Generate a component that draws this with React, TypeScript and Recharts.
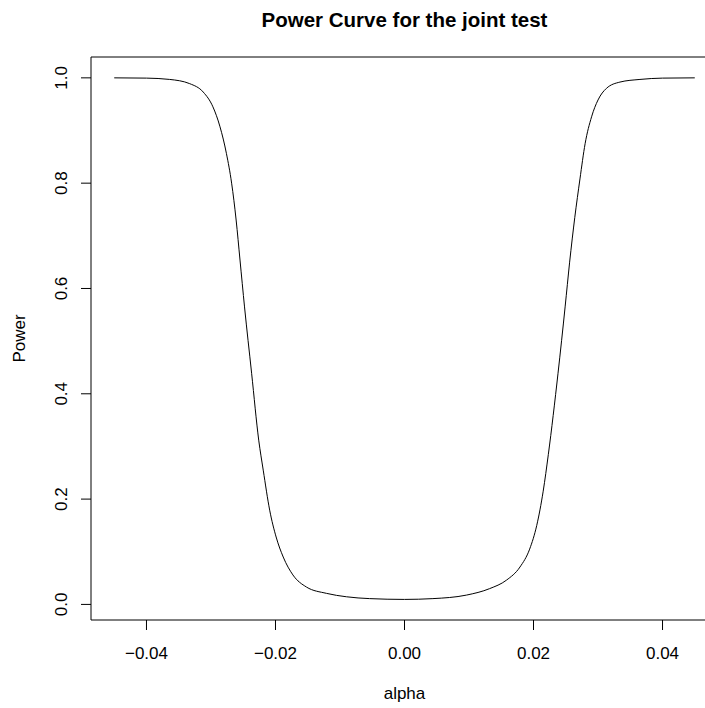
import { Line, LineChart, ReferenceArea, XAxis, YAxis } from "recharts";

// Power of the joint test against alpha.
const ALPHA = [
  -0.045, -0.04, -0.0364, -0.0333, -0.0312, -0.0297, -0.0286, -0.0276, -0.0268, -0.0261, -0.0255, -0.0248,
  -0.0237, -0.0226, -0.0219, -0.0209, -0.0199, -0.0188, -0.0173, -0.0152, -0.0121, -0.009, -0.0054, 0.0,
  0.0044, 0.0096, 0.0132, 0.0158, 0.0179, 0.0194, 0.0205, 0.0215, 0.0223, 0.0238, 0.0249, 0.0256, 0.0264,
  0.0272, 0.028, 0.029, 0.03, 0.0313, 0.0334, 0.0365, 0.04, 0.045,
];
const POWER = [
  1.0, 0.9995, 0.997, 0.989, 0.973, 0.945, 0.907, 0.856, 0.8, 0.73, 0.654, 0.565,
  0.439, 0.312, 0.255, 0.179, 0.128, 0.09, 0.056, 0.033, 0.021, 0.0145, 0.011, 0.0095,
  0.011, 0.0177, 0.03, 0.046, 0.071, 0.105, 0.15, 0.215, 0.285, 0.439, 0.565, 0.65, 0.735,
  0.808, 0.875, 0.926, 0.958, 0.98, 0.992, 0.997, 0.9995, 1.0,
];

const X_TICKS = [-0.04, -0.02, 0, 0.02, 0.04];
const X_TICK_LABELS = ["\u22120.04", "\u22120.02", "0.00", "0.02", "0.04"];
const Y_TICKS = [0, 0.2, 0.4, 0.6, 0.8, 1.0];
const Y_TICK_LABELS = ["0.0", "0.2", "0.4", "0.6", "0.8", "1.0"];

// R pads the data range by 4% on each side
const X_DOMAIN: [number, number] = [-0.0486, 0.0486];
const Y_DOMAIN: [number, number] = [-0.0296, 1.0396];

const FONT = "'Liberation Sans', Arial, Helvetica, sans-serif";

const data = ALPHA.map((a, i) => ({ alpha: a, power: POWER[i] }));

function XTick(props: any) {
  const { x, payload, index } = props;
  return (
    <text x={x} y={658.5} textAnchor="middle" fontSize={17} fontFamily={FONT} fill="#000">
      {X_TICK_LABELS[index] ?? String(payload.value)}
    </text>
  );
}

function YTick(props: any) {
  const { y, payload, index } = props;
  const x = 67;
  return (
    <text
      x={x}
      y={y}
      transform={`rotate(-90, ${x}, ${y})`}
      textAnchor="middle"
      fontSize={17}
      fontFamily={FONT}
      fill="#000"
    >
      {Y_TICK_LABELS[index] ?? String(payload.value)}
    </text>
  );
}

export default function App() {
  return (
    <div
      style={{
        position: "fixed",
        left: 0,
        top: 0,
        width: 705,
        height: 708,
        overflow: "hidden",
        background: "#fff",
      }}
    >
      <LineChart width={740} height={708} data={data} margin={{ top: 57, right: 22, bottom: 0, left: 0 }}>
        <XAxis
          type="number"
          dataKey="alpha"
          domain={X_DOMAIN}
          ticks={X_TICKS}
          allowDataOverflow
          height={88}
          tickSize={10}
          axisLine={false}
          tickLine={{ stroke: "#000" }}
          tick={<XTick />}
        />
        <YAxis
          type="number"
          domain={Y_DOMAIN}
          ticks={Y_TICKS}
          allowDataOverflow
          width={91}
          tickSize={10}
          axisLine={false}
          tickLine={{ stroke: "#000" }}
          tick={<YTick />}
        />
        <ReferenceArea
          x1={X_DOMAIN[0]}
          x2={X_DOMAIN[1]}
          y1={Y_DOMAIN[0]}
          y2={Y_DOMAIN[1]}
          fill="none"
          stroke="#000"
          strokeWidth={1}
          ifOverflow="visible"
        />
        <Line
          type="monotone"
          dataKey="power"
          stroke="#000"
          strokeWidth={1}
          dot={false}
          isAnimationActive={false}
        />
      </LineChart>
      <svg
        width={705}
        height={708}
        style={{ position: "absolute", left: 0, top: 0, pointerEvents: "none" }}
      >
        <text x={404.5} y={27} textAnchor="middle" fontSize={20.5} fontWeight="bold" fontFamily={FONT} fill="#000">
          Power Curve for the joint test
        </text>
        <text x={404.5} y={699} textAnchor="middle" fontSize={17} fontFamily={FONT} fill="#000">
          alpha
        </text>
        <text
          x={25}
          y={338.5}
          transform="rotate(-90, 25, 338.5)"
          textAnchor="middle"
          fontSize={17}
          fontFamily={FONT}
          fill="#000"
        >
          Power
        </text>
      </svg>
    </div>
  );
}
